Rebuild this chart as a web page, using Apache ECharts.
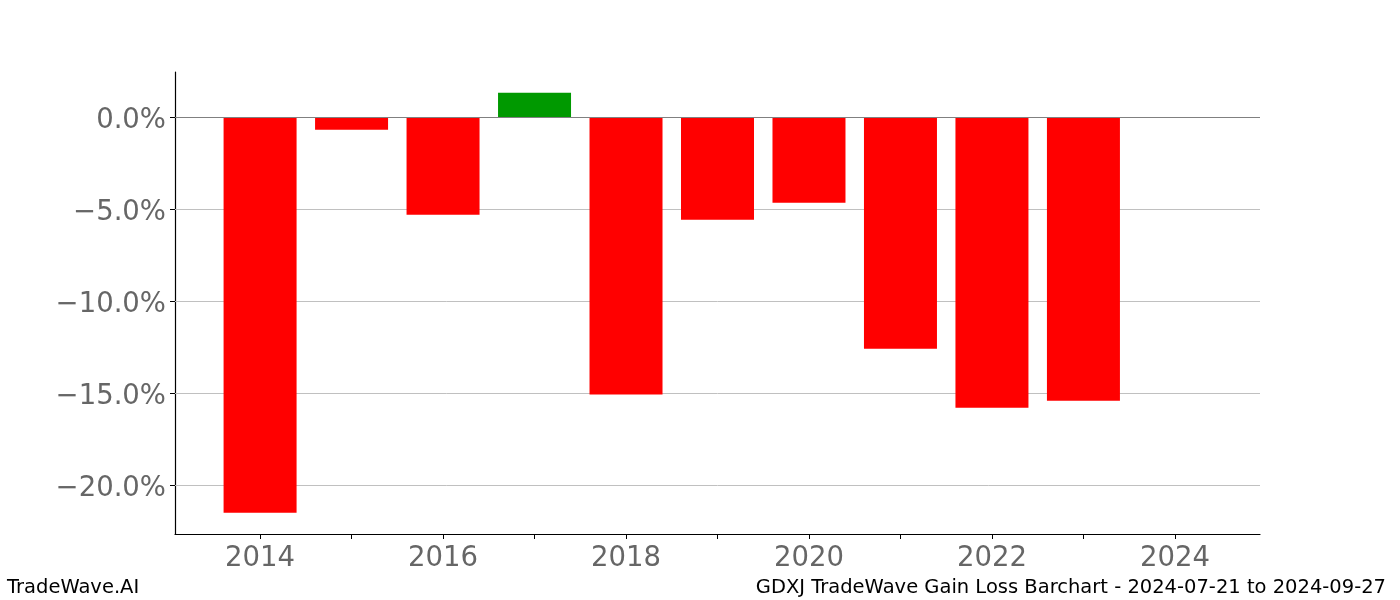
<!DOCTYPE html>
<html>
<head>
<meta charset="utf-8">
<script src="https://cdn.jsdelivr.net/npm/echarts@6/dist/echarts.min.js"></script>
<style>
html,body{margin:0;padding:0;background:#fff;}
#chart{width:1400px;height:600px;}
</style>
</head>
<body>
<div id="chart"></div>
<script>
const years = [2014, 2015, 2016, 2017, 2018, 2019, 2020, 2021, 2022, 2023];
const values = [-21.5, -0.69, -5.31, 1.32, -15.08, -5.58, -4.66, -12.59, -15.8, -15.42];
const xTickValues = [2014, 2015, 2016, 2017, 2018, 2019, 2020, 2021, 2022, 2023, 2024];
const xLabelValues = [2014, 2016, 2018, 2020, 2022, 2024];
const yTickValues = [-20, -15, -10, -5, 0];
const gridValues = [-20, -15, -10, -5];
const footerLeft = 'TradeWave.AI';
const footerRight = 'GDXJ TradeWave Gain Loss Barchart - 2024-07-21 to 2024-09-27';

const chart = echarts.init(document.getElementById('chart'), null, {renderer: 'canvas'});
const font = 'DejaVu Sans';
const fmtPct = v => '{a|' + (v < 0 ? '\u2212' : '') + Math.abs(v).toFixed(1) + '%}';

chart.setOption({
  animation: false,
  backgroundColor: '#ffffff',
  grid: {left: 175, right: 140, top: 72, bottom: 66, containLabel: false},
  xAxis: {
    type: 'value',
    min: 2013.07,
    max: 2024.93,
    axisLine: {show: true, onZero: false, lineStyle: {color: '#000', width: 1.2}},
    axisTick: {show: true, length: 5, customValues: xTickValues, lineStyle: {color: '#000', width: 1}},
    axisLabel: {show: true, customValues: xLabelValues, color: '#666666', fontFamily: font, fontSize: 27.5, margin: 11, formatter: v => String(v)},
    splitLine: {show: false}
  },
  yAxis: {
    type: 'value',
    min: -22.66,
    max: 2.45,
    axisLine: {show: true, onZero: false, lineStyle: {color: '#000', width: 1.2}},
    axisTick: {show: true, length: 5, customValues: yTickValues, lineStyle: {color: '#000', width: 1}},
    axisLabel: {
      show: true, customValues: yTickValues, color: '#666666', fontFamily: font, fontSize: 27.5, margin: 9,
      formatter: fmtPct,
      rich: {a: {color: '#666666', fontFamily: font, fontSize: 27.5, padding: [8, 0, 0, 0]}}
    },
    splitLine: {show: false}
  },
  series: [{
    type: 'bar',
    data: years.map((y, i) => ({
      value: [y, values[i]],
      itemStyle: {color: values[i] >= 0 ? '#009900' : '#ff0000'}
    })),
    barWidth: 73,
    z: 3,
    markLine: {
      silent: true,
      symbol: 'none',
      z: 1,
      label: {show: false},
      lineStyle: {color: '#c0c0c0', width: 1, type: 'solid'},
      data: gridValues.map(v => ({yAxis: v}))
    }
  }, {
    type: 'line',
    data: [],
    markLine: {
      silent: true,
      symbol: 'none',
      z: 6,
      label: {show: false},
      lineStyle: {color: '#808080', width: 1.2, type: 'solid'},
      data: [{yAxis: 0}]
    }
  }],
  graphic: [
    {type: 'text', left: 7, top: 578, style: {text: footerLeft, font: '19.5px "DejaVu Sans"', fill: '#000'}},
    {type: 'text', right: 14, top: 578, style: {text: footerRight, font: '19.5px "DejaVu Sans"', fill: '#000'}}
  ]
});
</script>
</body>
</html>
